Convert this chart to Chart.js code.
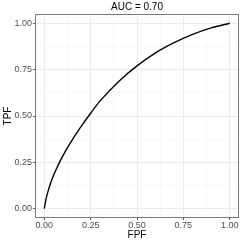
<!DOCTYPE html>
<html>
<head>
<meta charset="utf-8">
<script src="https://cdn.jsdelivr.net/npm/chart.js@4"></script>
<style>
  html, body { margin: 0; padding: 0; background: #fff; }
  #wrap { width: 243px; height: 243px; }
</style>
</head>
<body>
<div id="wrap"><canvas id="chart" width="243" height="243"></canvas></div>
<script>
// values
const fpf = [0, 0.01, 0.025, 0.05, 0.075, 0.1, 0.15, 0.2, 0.25, 0.3, 0.4, 0.5, 0.6, 0.7, 0.8, 0.9, 1.0];
const tpf = [0, 0.055, 0.11, 0.18, 0.235, 0.285, 0.37, 0.445, 0.515, 0.58, 0.685, 0.77, 0.84, 0.895, 0.94, 0.975, 1.0];
const tickValues = [0, 0.125, 0.25, 0.375, 0.5, 0.625, 0.75, 0.875, 1];
const tickLabels = ["0.00", "", "0.25", "", "0.50", "", "0.75", "", "1.00"];
const titleText = "AUC = 0.70";
const xTitle = "FPF";
const yTitle = "TPF";

const font = "'Liberation Sans', Arial, sans-serif";
const isMajor = (v) => Math.abs(v * 4 - Math.round(v * 4)) < 1e-6;

const panelBox = {
  id: "panelBox",
  afterDraw(chart) {
    const { ctx, chartArea: a } = chart;
    ctx.save();
    ctx.strokeStyle = "#7a7a7a";
    ctx.lineWidth = 1;
    ctx.strokeRect(Math.round(a.left) + 0.5, Math.round(a.top) + 0.5,
      Math.round(a.right - a.left) - 1, Math.round(a.bottom - a.top) - 1);
    ctx.fillStyle = "#000";
    ctx.textAlign = "center";
    ctx.textBaseline = "middle";
    ctx.font = "10px " + font;
    ctx.fillText(titleText, (a.left + a.right) / 2, 7);
    ctx.fillText(xTitle, (a.left + a.right) / 2, 235.5);
    ctx.translate(8.5, (a.top + a.bottom) / 2);
    ctx.rotate(-Math.PI / 2);
    ctx.fillText(yTitle, 0, 0);
    ctx.restore();
  }
};

function axis(isX) {
  return {
    type: "linear",
    min: -0.05,
    max: 1.05,
    afterBuildTicks(scale) {
      scale.ticks = tickValues.map((v) => ({ value: v }));
    },
    afterFit(scale) {
      if (isX) scale.height = 25; else scale.width = 35;
    },
    ticks: {
      autoSkip: false,
      maxRotation: 0,
      padding: isX ? 0 : 1,
      color: "#4d4d4d",
      font: { family: font, size: 9 },
      callback: (v) => tickLabels[tickValues.indexOf(v)] ?? ""
    },
    grid: {
      color: (c) => isMajor(c.tick.value) ? "#ebebeb" : "#f4f4f4",
      lineWidth: (c) => isMajor(c.tick.value) ? 1 : 0.6,
      tickColor: (c) => isMajor(c.tick.value) ? "#555555" : "rgba(0,0,0,0)",
      tickLength: 2,
      drawTicks: true
    },
    border: { display: false },
    title: { display: false }
  };
}

new Chart(document.getElementById("chart"), {
  type: "line",
  data: {
    datasets: [{
      data: fpf.map((x, i) => ({ x, y: tpf[i] })),
      borderColor: "#000",
      borderWidth: 1.4,
      pointRadius: 0,
      cubicInterpolationMode: "monotone",
      fill: false
    }]
  },
  options: {
    responsive: false,
    animation: false,
    devicePixelRatio: 1,
    layout: { padding: { top: 14, right: 4, left: 0, bottom: 0 } },
    plugins: { legend: { display: false }, tooltip: { enabled: false } },
    scales: { x: axis(true), y: axis(false) }
  },
  plugins: [panelBox]
});
</script>
</body>
</html>
